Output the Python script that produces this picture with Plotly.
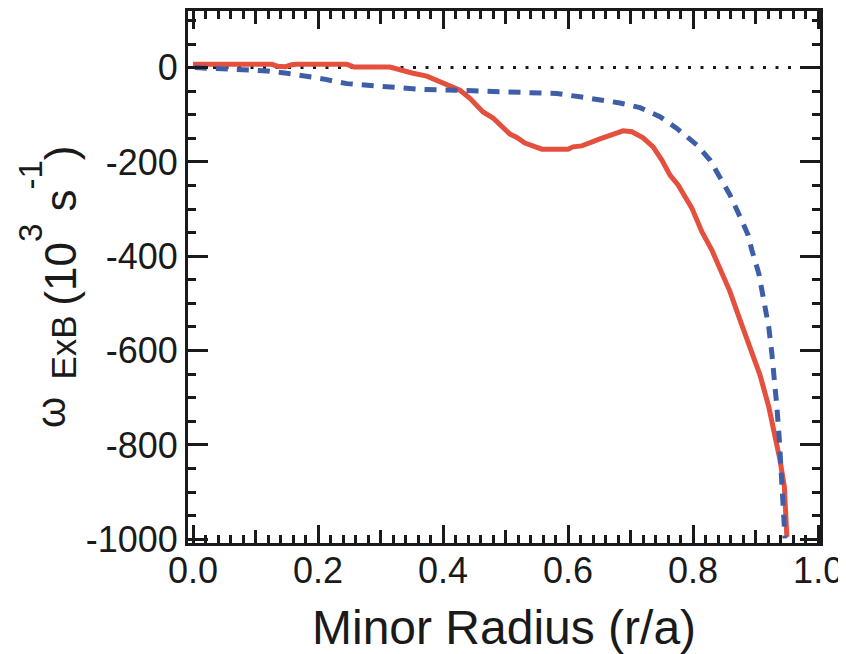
import plotly.graph_objects as go

# ---- data ----
red_r = [0.0, 0.126, 0.135, 0.148, 0.158, 0.165, 0.246, 0.258, 0.315, 0.331, 0.352, 0.374,
         0.40, 0.427, 0.443, 0.464, 0.48, 0.491, 0.507, 0.518, 0.531, 0.558, 0.6, 0.608,
         0.622, 0.651, 0.675, 0.688, 0.702, 0.72, 0.736, 0.75, 0.763, 0.776, 0.798, 0.814,
         0.83, 0.843, 0.859, 0.875, 0.891, 0.907, 0.921, 0.931, 0.939, 0.946, 0.948, 0.95]
red_w = [7, 7, 3, 2, 6, 7, 7, 1, 1, -5, -12, -18,
         -32, -48, -65, -94, -107, -122, -141, -148, -160, -173, -173, -168,
         -166, -151, -141, -134, -136, -149, -168, -196, -228, -249, -298, -348,
         -387, -429, -475, -535, -592, -652, -719, -776, -832, -889, -938, -995]

blue_r = [0.003, 0.086, 0.118, 0.15, 0.182, 0.208, 0.246, 0.278, 0.315, 0.363, 0.422, 0.475,
          0.507, 0.582, 0.619, 0.656, 0.683, 0.715, 0.747, 0.774, 0.806, 0.827, 0.843, 0.859,
          0.875, 0.888, 0.894, 0.905, 0.913, 0.921, 0.926, 0.93, 0.934, 0.938, 0.942, 0.945,
          0.946, 0.947]
blue_w = [0, -4, -7, -12, -18, -24, -34, -37, -41, -46, -48, -51,
          -53, -55, -62, -69, -75, -85, -104, -129, -164, -196, -232, -270,
          -316, -355, -387, -436, -493, -550, -606, -656, -719, -790, -868, -931,
          -967, -998]

x_tick_vals = [0.0, 0.2, 0.4, 0.6, 0.8, 1.0]
x_tick_text = ["0.0", "0.2", "0.4", "0.6", "0.8", "1.0"]
y_tick_vals = [0, -200, -400, -600, -800, -1000]
y_tick_text = ["0", "-200", "-400", "-600", "-800", "-1000"]

x_range = [-0.008, 1.003]
y_range = [-1008, 120]
zero_level = 0

FONT = "Liberation Sans, Arial, Helvetica, sans-serif"
INK = "#1a1a1a"
RED = "#E5503E"
BLUE = "#3F5EA8"

fig = go.Figure()
fig.add_trace(go.Scatter(x=red_r, y=red_w, mode="lines",
                         line=dict(color=RED, width=5), showlegend=False, hoverinfo="skip"))
fig.add_trace(go.Scatter(x=blue_r, y=blue_w, mode="lines",
                         line=dict(color=BLUE, width=5, dash="12px,9px"),
                         showlegend=False, hoverinfo="skip"))
# helper (invisible) trace so the medium-tick overlay axis is drawn
fig.add_trace(go.Scatter(x=[None], y=[None], xaxis="x2", mode="lines",
                         showlegend=False, hoverinfo="skip"))

fig.add_shape(type="line", xref="paper", x0=0, x1=1, yref="y", y0=zero_level, y1=zero_level,
              line=dict(color=INK, width=3, dash="3px,9.5px"), layer="below")

# the page body adds an 8px offset, so the figure is sized/margined to compensate
fig.update_layout(
    width=838, height=646,
    margin=dict(l=180, r=26, t=3, b=111, autoexpand=False),
    paper_bgcolor="white", plot_bgcolor="white",
    font=dict(family=FONT, color=INK),
    xaxis=dict(range=x_range, tickmode="array", tickvals=x_tick_vals, ticktext=x_tick_text,
               ticks="inside", ticklen=18, tickwidth=3, tickcolor=INK,
               minor=dict(dtick=0.02, tick0=0, ticks="inside", ticklen=8, tickwidth=2.5,
                          tickcolor=INK, showgrid=False),
               showline=True, linewidth=3, linecolor=INK, mirror="ticks",
               showgrid=False, zeroline=False, automargin=False, ticklabelstandoff=-6,
               tickfont=dict(size=36, family=FONT, color=INK)),
    xaxis2=dict(range=x_range, overlaying="x", anchor="y", side="bottom",
                tick0=0, dtick=0.1, ticks="inside", ticklen=13, tickwidth=3, tickcolor=INK,
                showticklabels=False, showline=False, mirror="ticks", automargin=False,
                showgrid=False, zeroline=False),
    yaxis=dict(range=y_range, tickmode="array", tickvals=y_tick_vals, ticktext=y_tick_text,
               ticks="inside", ticklen=20, tickwidth=3, tickcolor=INK,
               minor=dict(dtick=50, tick0=0, ticks="inside", ticklen=8, tickwidth=2.5,
                          tickcolor=INK, showgrid=False),
               showline=True, linewidth=3, linecolor=INK, mirror="ticks",
               showgrid=False, zeroline=False, automargin=False,
               tickfont=dict(size=36, family=FONT, color=INK)),
)

SUP_OPEN = "<span style='font-size:80px'><sup><span style='font-size:33px'>"
SUP_CLOSE = "</span></sup></span>"
y_title_units = ("<span style='font-size:35px'>ExB </span>(10" + SUP_OPEN + "3" + SUP_CLOSE +
                 " s" + SUP_OPEN + "-1" + SUP_CLOSE + ")")

fig.add_annotation(text="Minor Radius (r/a)", xref="paper", yref="paper", x=0.5, y=-0.158,
                   xanchor="center", yanchor="middle", showarrow=False,
                   font=dict(size=48, family=FONT, color=INK))
fig.add_annotation(text="\u03c9", xref="paper", yref="paper", x=-0.2168, y=0.246,
                   xanchor="center", yanchor="middle", textangle=-90, showarrow=False,
                   font=dict(size=40, family=FONT, color=INK))
fig.add_annotation(text=y_title_units,
                   xref="paper", yref="paper", x=-0.22, y=0.527,
                   xanchor="center", yanchor="middle", textangle=-90, showarrow=False,
                   font=dict(size=44, family=FONT, color=INK))

fig.write_html("out.html")
